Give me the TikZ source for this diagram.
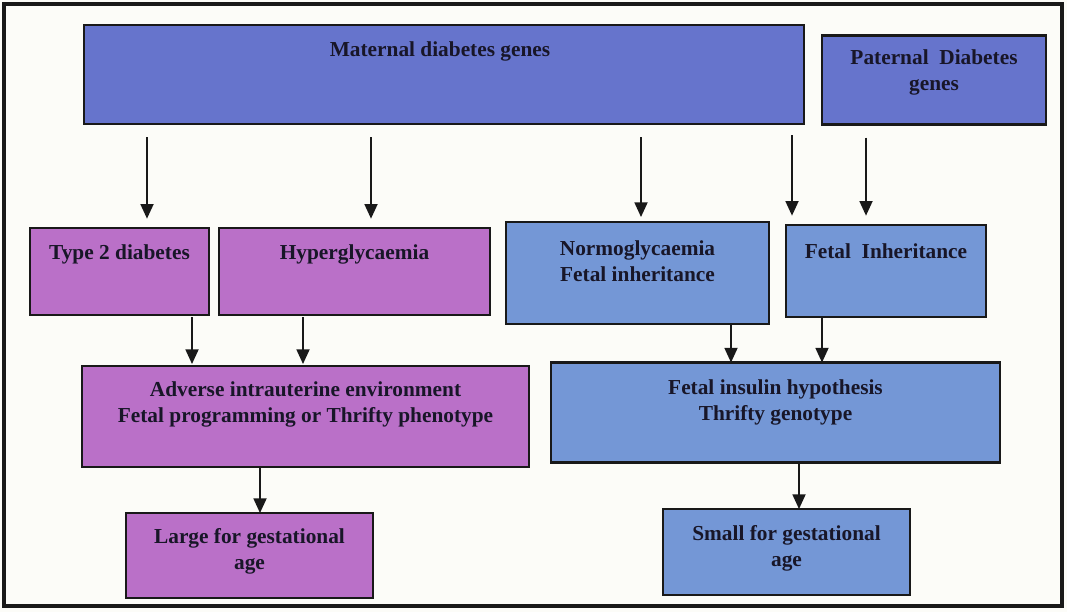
\documentclass[tikz,border=0pt]{standalone}
\usepackage{fontspec}
\setmainfont{Liberation Serif}
\usetikzlibrary{arrows.meta,calc}
\definecolor{matblue}{RGB}{102,116,204}
\definecolor{pinkbox}{RGB}{186,112,200}
\definecolor{lightblue}{RGB}{116,151,214}
\definecolor{bg}{RGB}{252,252,248}
\definecolor{txt}{RGB}{24,22,40}
\tikzset{
  box/.style={draw=black!90, line width=1.65pt, inner sep=0pt, outer sep=0pt},
  lbl/.style={font=\fontsize{16}{19.5}\selectfont\bfseries, text=txt, align=center, inner sep=0pt},
  arr/.style={draw=black!90, line width=1.35pt, -{Triangle[width=9.75pt,length=11pt]}},
}
\begin{document}
\begin{tikzpicture}[x=0.75pt,y=-0.75pt]
\useasboundingbox (0,0) rectangle (1067,612);
\fill[bg] (0,0) rectangle (1067,612);
\draw[black!90, line width=2.6pt] (4,4) rectangle (1062,606);

% boxes
\node[box, fill=matblue, minimum width=720*0.75pt, minimum height=99*0.75pt] (mat) at (444,74.5) {};
\node[lbl] (matt) at (440,51) {Maternal diabetes genes};

\node[box, fill=matblue, minimum width=224*0.75pt, minimum height=89*0.75pt] (pat) at (934,80) {};
\node[lbl] (patt) at (934,72) {Paternal\ \ Diabetes\\genes};

\node[box, fill=pinkbox, minimum width=179*0.75pt, minimum height=87*0.75pt] (t2) at (119.5,271.5) {};
\node[lbl] at (119.5,254) {Type 2 diabetes};

\node[box, fill=pinkbox, minimum width=271*0.75pt, minimum height=87*0.75pt] (hyp) at (354.5,271.5) {};
\node[lbl] at (354.5,254) {Hyperglycaemia};

\node[box, fill=lightblue, minimum width=263*0.75pt, minimum height=102*0.75pt] (nor) at (637.5,273) {};
\node[lbl] at (637.5,261) {Normoglycaemia\\Fetal inheritance};

\node[box, fill=lightblue, minimum width=200*0.75pt, minimum height=92*0.75pt] (fin) at (886,271) {};
\node[lbl] at (886,251) {Fetal\ \ Inheritance};

\node[box, fill=pinkbox, minimum width=447*0.75pt, minimum height=101*0.75pt] (adv) at (305.5,416.5) {};
\node[lbl] at (305.5,404) {Adverse intrauterine environment\\Fetal programming or Thrifty phenotype};

\node[box, fill=lightblue, minimum width=449*0.75pt, minimum height=100*0.75pt] (fih) at (775.5,412.5) {};
\node[lbl] at (775.5,402) {Fetal insulin hypothesis\\Thrifty genotype};

\node[box, fill=pinkbox, minimum width=247*0.75pt, minimum height=85*0.75pt] (lga) at (249.5,555.5) {};
\node[lbl] at (249.5,551) {Large for gestational\\age};

\node[box, fill=lightblue, minimum width=247*0.75pt, minimum height=86*0.75pt] (sga) at (786.5,552) {};
\node[lbl] at (786.5,548) {Small for gestational\\age};

% arrow x positions
\coordinate (x1) at (147,0);
\coordinate (x2) at (371,0);
\coordinate (x3) at (641,0);
\coordinate (x4) at (792,0);
\coordinate (x5) at (866,0);
\coordinate (x6) at (192,0);
\coordinate (x7) at (303,0);
\coordinate (x8) at (731,0);
\coordinate (x9) at (822,0);
\coordinate (x10) at (260,0);
\coordinate (x11) at (799,0);

\draw[arr, shorten <=9.75pt, shorten >=7pt] (mat.south -| x1) -- (t2.north -| x1);
\draw[arr, shorten <=9.75pt, shorten >=7pt] (mat.south -| x2) -- (hyp.north -| x2);
\draw[arr, shorten <=9.75pt, shorten >=3.75pt] (mat.south -| x3) -- (nor.north -| x3);
\draw[arr, shorten <=8.25pt, shorten >=7pt] (mat.south -| x4) -- (fin.north -| x4);
\draw[arr, shorten <=9.75pt, shorten >=7pt] (pat.south -| x5) -- (fin.north -| x5);

\draw[arr, shorten <=1.5pt, shorten >=1.5pt] (t2.south -| x6) -- (adv.north -| x6);
\draw[arr, shorten <=1.5pt, shorten >=1.5pt] (hyp.south -| x7) -- (adv.north -| x7);
\draw[arr] (nor.south -| x8) -- (fih.north -| x8);
\draw[arr] (fin.south -| x9) -- (fih.north -| x9);

\draw[arr] (adv.south -| x10) -- (lga.north -| x10);
\draw[arr] (fih.south -| x11) -- (sga.north -| x11);
\end{tikzpicture}
\end{document}
